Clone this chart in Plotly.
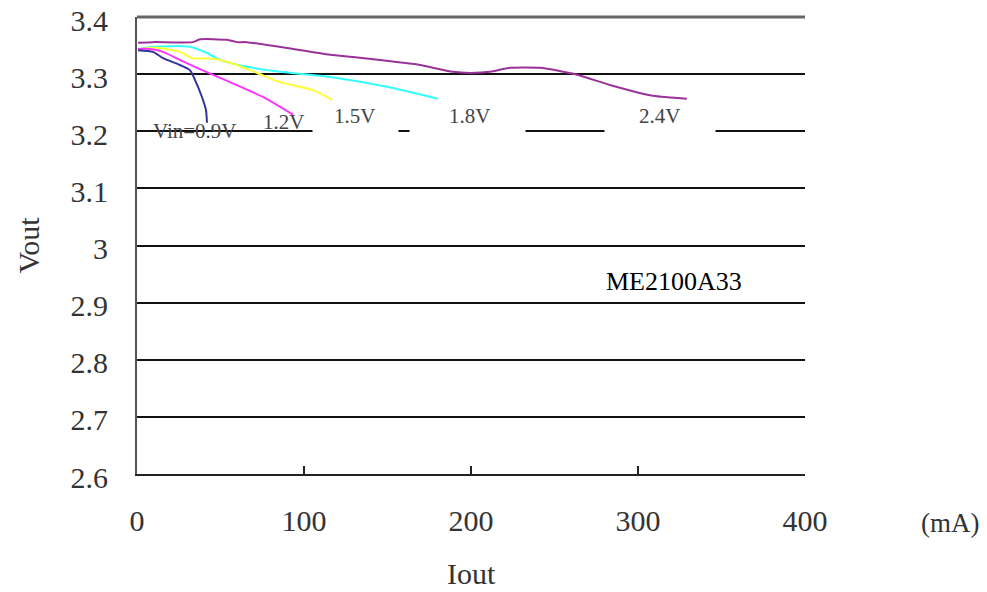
import plotly.graph_objects as go

# ---- data ----
iout_24 = [0.6, 9.6, 33.5, 37.7, 53.9, 59.9, 65.9, 115.6, 129.3, 159.3, 169.5, 189.2, 199.4, 211.4, 223.4, 241.3, 263.5, 283.2, 309.0, 329.3]
vout_24 = [3.355, 3.356, 3.356, 3.361, 3.360, 3.356, 3.356, 3.334, 3.330, 3.320, 3.316, 3.304, 3.302, 3.304, 3.311, 3.311, 3.299, 3.281, 3.262, 3.257]

iout_18 = [0.6, 9.6, 31.7, 41.9, 49.7, 65.9, 85.6, 115.6, 149.7, 180.2]
vout_18 = [3.344, 3.348, 3.348, 3.337, 3.325, 3.313, 3.304, 3.295, 3.278, 3.257]

iout_15 = [0.6, 12.0, 25.7, 32.9, 45.5, 55.7, 71.9, 85.6, 105.4, 116.8]
vout_15 = [3.344, 3.346, 3.339, 3.328, 3.327, 3.320, 3.302, 3.286, 3.272, 3.255]

iout_12 = [0.6, 7.8, 15.6, 25.7, 35.9, 55.7, 75.4, 93.4]
vout_12 = [3.344, 3.344, 3.339, 3.325, 3.311, 3.286, 3.260, 3.229]

iout_09 = [0.6, 9.6, 15.6, 25.7, 31.7, 34.7, 38.9, 41.3, 41.9]
vout_09 = [3.342, 3.339, 3.328, 3.316, 3.307, 3.290, 3.260, 3.237, 3.215]

x_ticks = [0, 100, 200, 300, 400]
y_ticks = [2.6, 2.7, 2.8, 2.9, 3.0, 3.1, 3.2, 3.3, 3.4]
y_ticktext = ["2.6", "2.7", "2.8", "2.9", "3", "3.1", "3.2", "3.3", "3.4"]

# curve labels
label_text = ["Vin=0.9V", "1.2V", "1.5V", "1.8V", "2.4V"]
label_x = [34.7, 87.7, 130.0, 199.0, 313.0]
label_y = [3.200, 3.217, 3.227, 3.227, 3.227]

# white gaps in the 3.2 gridline behind labels
mask_x = [130.8, 197.9, 313.2]
mask_w = [85, 115, 110]

SERIF = "Liberation Serif, DejaVu Serif, serif"
GRAY = "#333333"

W, H = 987, 592
L, T, R, B = 137, 17, 182, 118
plot_w = W - L - R
plot_h = H - T - B

fig = go.Figure()
series = [
    (iout_24, vout_24, "#993399"),
    (iout_18, vout_18, "#33FFFF"),
    (iout_15, vout_15, "#FFFF33"),
    (iout_12, vout_12, "#FF33FF"),
    (iout_09, vout_09, "#333399"),
]
for xs, ys, c in series:
    fig.add_trace(go.Scatter(x=xs, y=ys, mode="lines", line=dict(color=c, width=2, shape="spline", smoothing=0.6),
                             showlegend=False, hoverinfo="skip"))

annotations = []
for mx, mw in zip(mask_x, mask_w):
    annotations.append(dict(x=mx, y=3.2, xref="x", yref="y", text=" ", showarrow=False,
                            width=mw, height=8, bgcolor="white", borderpad=0,
                            font=dict(size=4)))
for t, lx, ly in zip(label_text, label_x, label_y):
    annotations.append(dict(x=lx, y=ly, xref="x", yref="y", text=t, showarrow=False,
                            font=dict(family=SERIF, size=21, color="#444444")))
annotations.append(dict(x=321.3, y=2.937, xref="x", yref="y", text="ME2100A33", showarrow=False,
                        font=dict(family=SERIF, size=26, color="black")))
# "(mA)" unit label
annotations.append(dict(x=(950 - L) / plot_w, y=(H - B - 523) / plot_h, xref="paper", yref="paper",
                        xanchor="center", yanchor="middle",
                        text="(mA)", showarrow=False,
                        font=dict(family=SERIF, size=27, color=GRAY)))
# x axis title
annotations.append(dict(x=0.5, y=(H - B - 573) / plot_h, xref="paper", yref="paper",
                        xanchor="center", yanchor="middle",
                        text="Iout", showarrow=False,
                        font=dict(family=SERIF, size=30, color=GRAY)))

fig.update_layout(
    width=W, height=H,
    margin=dict(l=L, r=R, t=T, b=B, autoexpand=False),
    paper_bgcolor="white", plot_bgcolor="white",
    xaxis=dict(range=[0, 400], tickvals=x_ticks, ticktext=[str(v) for v in x_ticks],
               showgrid=False, zeroline=False, showline=True, linecolor="#222222", linewidth=2,
               ticks="inside", ticklen=8, tickcolor="#222222", tickwidth=2,
               ticklabelstandoff=19, automargin=False, ticklabeloverflow="allow",
               tickfont=dict(family=SERIF, size=30, color=GRAY)),
    yaxis=dict(range=[2.6, 3.4], tickvals=y_ticks, ticktext=y_ticktext,
               showgrid=True, gridcolor="#111111", gridwidth=2, zeroline=False,
               showline=True, linecolor="#555555", linewidth=2, ticks="",
               ticklabelstandoff=21, ticklabelshift=3, automargin=False, ticklabeloverflow="allow",
               tickfont=dict(family=SERIF, size=30, color=GRAY),
               title=dict(text="Vout", font=dict(family=SERIF, size=30, color=GRAY), standoff=22)),
    annotations=annotations,
    shapes=[dict(type="line", xref="paper", yref="paper", x0=0, x1=1, y0=1, y1=1,
                 line=dict(color="#666666", width=3), layer="below")],
)

# remove the default 8px page margin so the figure fills the window exactly
fig.write_html("out.html", config={"displayModeBar": False},
               post_script="document.body.style.margin='0';document.body.style.overflow='hidden';")
